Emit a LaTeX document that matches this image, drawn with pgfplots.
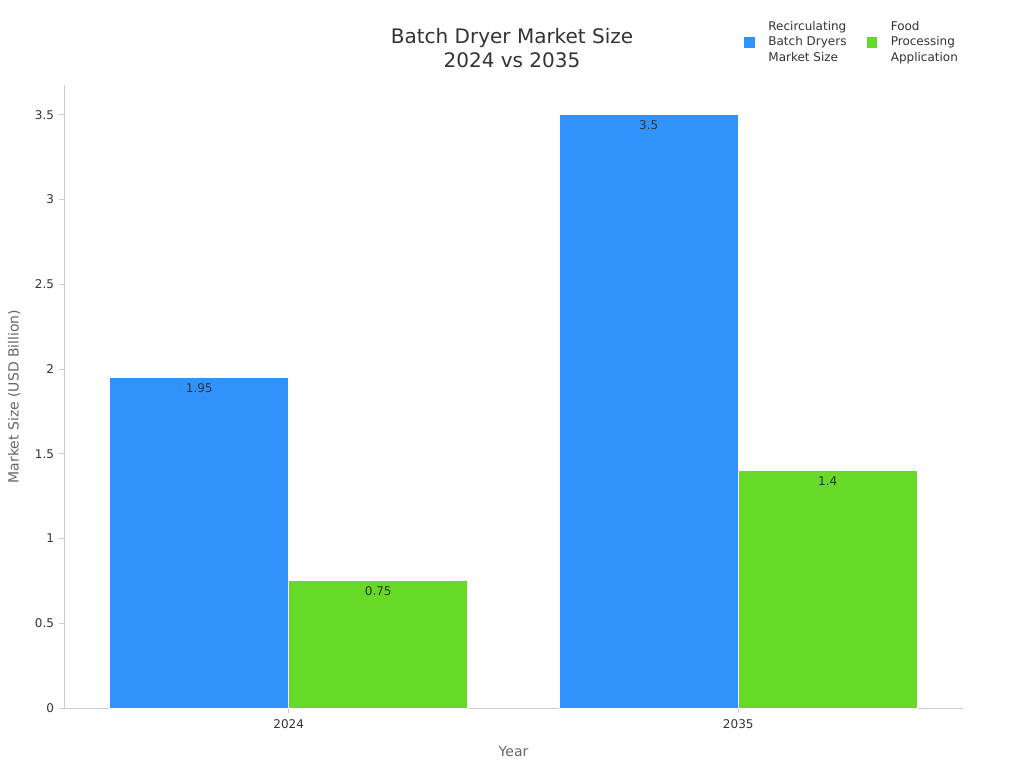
\documentclass[border=0pt]{standalone}
\usepackage{pgfplots}
\pgfplotsset{compat=1.18}
\usepackage{fontspec}
\setmainfont{DejaVu Sans}
\definecolor{barblue}{RGB}{48,146,250}
\definecolor{bargreen}{RGB}{102,218,38}
\definecolor{axisgray}{RGB}{204,204,204}
\definecolor{labelgray}{RGB}{102,102,102}
\definecolor{ticktext}{RGB}{51,51,51}
\begin{document}
\begin{tikzpicture}
\path (0,0) rectangle (768pt,576pt);
\node[font=\fontsize{15}{18}\selectfont, text=ticktext, align=center] at (384pt,540pt) {Batch Dryer Market Size\\2024 vs 2035};
\begin{axis}[
  at={(48pt,45pt)}, anchor=south west,
  scale only axis, width=674.25pt, height=467.25pt,
  ybar=0pt, bar width=134.25pt,
  xmin=-0.5, xmax=1.5, ymin=0, ymax=3.675,
  xtick={0,1}, xticklabels={2024,2035},
  ytick={0,0.5,1,1.5,2,2.5,3,3.5},
  axis lines*=left,
  axis line style={axisgray},
  tick style={axisgray, thin},
  major tick length=4pt,
  tick align=outside,
  /pgf/number format/assume math mode=true,
  tick label style={font=\fontsize{9}{11}\selectfont, text=ticktext},
  xticklabel style={yshift=-1.5pt},
  xlabel={Year}, ylabel={Market Size (USD Billion)},
  label style={font=\fontsize{10.5}{12}\selectfont, text=labelgray},
  xlabel style={yshift=-6pt},
  ylabel style={yshift=4pt},
  nodes near coords,
  every node near coord/.append style={anchor=north, font=\fontsize{9}{11}\selectfont, text=ticktext, yshift=-1pt},
  legend columns=2,
  legend style={draw=none, at={(1.002,1.111)}, anchor=north east,
    font=\fontsize{9}{11.5}\selectfont, nodes={align=left, text=ticktext},
    /tikz/every odd column/.append style={column sep=8pt},
    /tikz/every even column/.append style={column sep=13pt}},
  legend image code/.code={\fill[#1, draw=none] (0pt,-4.1pt) rectangle (8.2pt,4.1pt);},
  legend cell align=left,
]
\addplot[fill=barblue, draw=white, line width=0.6pt] coordinates {(0,1.95) (1,3.5)};
\addplot[fill=bargreen, draw=white, line width=0.6pt] coordinates {(0,0.75) (1,1.4)};
\legend{Recirculating\\Batch Dryers\\Market Size, Food\\Processing\\Application}
\end{axis}
\end{tikzpicture}
\end{document}
